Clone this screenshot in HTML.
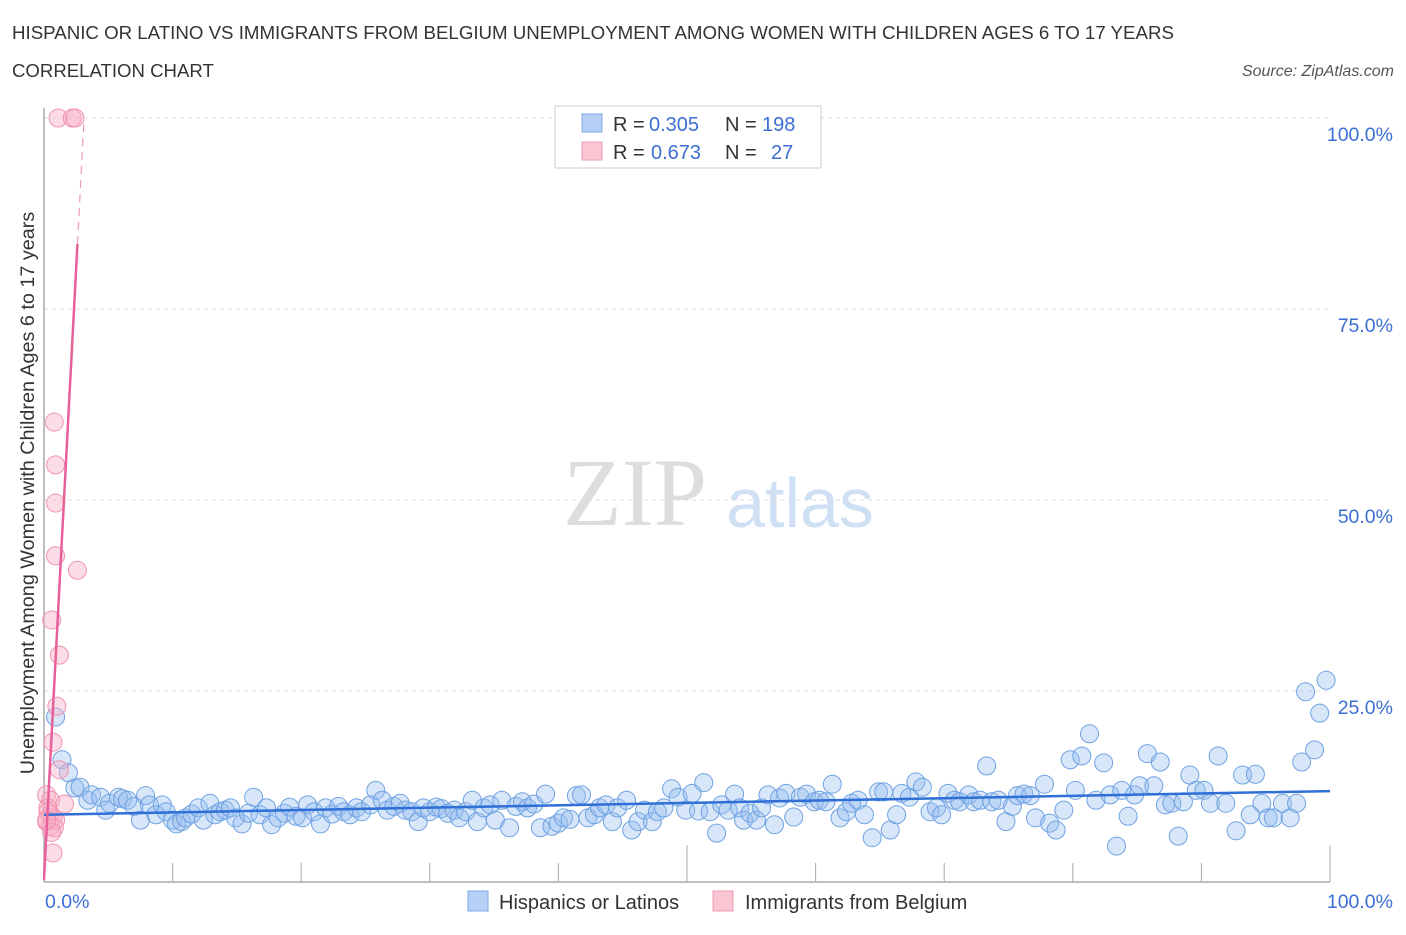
<!DOCTYPE html>
<html><head><meta charset="utf-8"><style>
body{margin:0;background:#fff;font-family:"Liberation Sans",sans-serif;}
</style></head><body>
<svg width="1406" height="930" xmlns="http://www.w3.org/2000/svg" style="font-family:'Liberation Sans',sans-serif">
<text x="12" y="39" font-size="18.7" fill="#333">HISPANIC OR LATINO VS IMMIGRANTS FROM BELGIUM UNEMPLOYMENT AMONG WOMEN WITH CHILDREN AGES 6 TO 17 YEARS</text>
<text x="12" y="77" font-size="18.6" fill="#333">CORRELATION CHART</text>
<text x="1394" y="76" font-size="16" fill="#555" text-anchor="end" font-style="italic">Source: ZipAtlas.com</text>
<g>
<text x="635" y="525" font-size="96" fill="#ddd" text-anchor="middle" font-family="Liberation Serif,serif">ZIP</text>
<text x="800" y="527" font-size="70" fill="#cfe0f5" text-anchor="middle">atlas</text>
</g>
<g id="grid"></g>
<g id="axes"></g>
<g id="pts"></g>
<g id="lines"></g>
<text transform="translate(34,493) rotate(-90)" font-size="19.8" fill="#333" text-anchor="middle">Unemployment Among Women with Children Ages 6 to 17 years</text>
<text x="45" y="908" font-size="19.5" fill="#3b6fd4">0.0%</text>
<text x="1393" y="908" font-size="19.5" fill="#3b6fd4" text-anchor="end">100.0%</text>
<g font-size="20">
<rect x="555" y="106" width="266" height="62" fill="#fff" stroke="#ccc"/>
<rect x="582" y="114" width="20" height="18" fill="#b7d0f5" stroke="#7ea9e6"/>
<rect x="582" y="142" width="20" height="18" fill="#fbc5d3" stroke="#ef9bb5"/>
<text x="613" y="131" fill="#333">R =</text>
<text x="649" y="131" fill="#3b6fd4">0.305</text>
<text x="725" y="131" fill="#333">N =</text>
<text x="762" y="131" fill="#3b6fd4">198</text>
<text x="613" y="159" fill="#333">R =</text>
<text x="651" y="159" fill="#3b6fd4">0.673</text>
<text x="725" y="159" fill="#333">N =</text>
<text x="771" y="159" fill="#3b6fd4">27</text>
</g>
<g>
<rect x="468" y="891" width="20" height="20" fill="#b7d0f5" stroke="#7ea9e6"/>
<text x="499" y="909" font-size="20" fill="#333">Hispanics or Latinos</text>
</g>
<g>
<rect x="713" y="891" width="20" height="20" fill="#fbc5d3" stroke="#ef9bb5"/>
<text x="745" y="909" font-size="20" fill="#333">Immigrants from Belgium</text>
</g>
</svg>
<script>
const yTicks=[25,50,75,100];
const yTickLabels=["25.0%","50.0%","75.0%","100.0%"];
const xTicks=[0,10,20,30,40,50,60,70,80,90,100];
const blueX=[0.9,1.4,1.9,2.4,2.8,3.4,3.7,4.4,4.8,5.1,5.8,6.1,6.5,7.0,7.5,7.9,8.2,8.7,9.2,9.5,10.0,10.3,10.7,11.0,11.5,12.0,12.4,12.9,13.3,13.7,14.1,14.5,14.9,15.4,15.9,16.3,16.8,17.3,17.7,18.2,18.7,19.1,19.6,20.1,20.5,21.0,21.5,21.9,22.4,22.9,23.3,23.8,24.3,24.7,25.4,25.8,26.3,26.7,27.2,27.7,28.1,28.6,29.1,29.5,30.0,30.5,30.9,31.4,31.9,32.3,32.8,33.3,33.7,34.2,34.7,35.1,35.6,36.2,36.7,37.2,37.6,38.1,38.6,39.0,39.5,40.0,40.4,40.9,41.4,41.8,42.3,42.8,43.2,43.7,44.2,44.6,45.3,45.7,46.2,46.7,47.3,47.7,48.2,48.8,49.3,49.9,50.4,50.9,51.3,51.8,52.3,52.7,53.2,53.7,54.1,54.4,54.9,55.4,55.8,56.3,56.8,57.2,57.7,58.3,58.8,59.3,59.9,60.3,60.8,61.3,61.9,62.4,62.8,63.3,63.8,64.4,64.9,65.3,65.8,66.3,66.7,67.3,67.8,68.3,68.9,69.4,69.8,70.3,70.8,71.2,71.9,72.3,72.8,73.3,73.7,74.2,74.8,75.3,75.7,76.2,76.7,77.1,77.8,78.2,78.7,79.3,79.8,80.2,80.7,81.3,81.8,82.4,82.9,83.4,83.8,84.3,84.8,85.2,85.8,86.3,86.8,87.2,87.7,88.2,88.6,89.1,89.6,90.2,90.7,91.3,91.9,92.7,93.2,93.8,94.2,94.7,95.2,95.6,96.3,96.9,97.4,97.8,98.1,98.8,99.2,99.7];
const blueY=[21.6,16.0,14.3,12.3,12.4,10.7,11.4,11.1,9.4,10.3,11.1,10.9,10.7,9.9,8.1,11.3,10.1,8.8,10.1,9.2,8.1,7.6,7.9,8.4,8.9,9.7,8.1,10.3,8.8,9.2,9.4,9.7,8.4,7.6,9.0,11.1,8.8,9.7,7.5,8.4,9.0,9.8,8.6,8.4,10.1,9.2,7.6,9.7,8.9,9.9,9.2,8.8,9.7,9.2,10.1,12.0,10.7,9.4,9.9,10.3,9.4,9.2,7.9,9.7,9.2,9.8,9.6,9.0,9.4,8.4,9.2,10.7,7.9,9.7,10.1,8.1,10.7,7.1,9.9,10.5,9.7,10.2,7.1,11.5,7.3,7.7,8.4,8.2,11.3,11.4,8.4,8.8,9.7,10.1,7.9,9.7,10.7,6.8,7.9,9.4,7.9,9.2,9.7,12.2,11.1,9.4,11.6,9.3,13.0,9.2,6.4,10.1,9.4,11.5,9.7,8.1,9.0,8.1,9.7,11.4,7.5,11.0,11.6,8.5,11.1,11.5,10.5,10.7,10.5,12.8,8.4,9.2,10.3,10.7,8.8,5.8,11.8,11.8,6.8,8.8,11.6,11.1,13.1,12.4,9.2,9.7,8.8,11.6,10.7,10.5,11.4,10.5,10.7,15.2,10.5,10.7,7.9,9.9,11.3,11.5,11.3,8.4,12.8,7.7,6.8,9.4,16.0,12.0,16.5,19.4,10.7,15.6,11.4,4.7,12.0,8.6,11.4,12.6,16.8,12.6,15.7,10.1,10.3,6.0,10.5,14.0,12.0,12.0,10.3,16.5,10.3,6.7,14.0,8.8,14.1,10.3,8.4,8.4,10.3,8.4,10.3,15.7,24.9,17.3,22.1,26.4];
const pinkX=[1.1,2.2,2.4,0.8,0.9,0.9,0.9,2.6,0.6,1.2,1.0,0.7,1.2,0.2,0.5,1.6,0.3,0.5,0.7,0.2,0.5,0.8,0.9,0.6,0.7,0.3,0.2];
const pinkY=[100,100,100,60.2,54.6,49.6,42.7,40.8,34.3,29.7,23.0,18.3,14.7,11.4,10.7,10.2,9.7,8.8,8.4,7.9,7.3,7.1,8.1,6.5,3.8,9.2,8.1];
const blueTrend=[8.8,11.9];
const pinkTrend={b:0.3,m:32,solidEnd:2.6,dashEnd:3.1};
const X=v=>44+v*12.86, Y=v=>882-v*7.64;
const NS="http://www.w3.org/2000/svg";
function mk(t,a,p){const e=document.createElementNS(NS,t);for(const k in a)e.setAttribute(k,a[k]);p.appendChild(e);return e;}
const grid=document.getElementById('grid'),axes=document.getElementById('axes'),pts=document.getElementById('pts'),lines=document.getElementById('lines');
yTicks.forEach((v,i)=>{
 const l=mk('line',{x1:44,x2:1330,y1:Y(v),y2:Y(v),stroke:'#ddd','stroke-dasharray':'4,4'},grid);
 
 
 const t=mk('text',{x:1393,y:Y(v)+23,'font-size':19.5,fill:'#3b6fd4','text-anchor':'end'},grid);
 t.textContent=yTickLabels[i];
 
 
});
const ax=mk('line',{x1:44,x2:1330,y1:882,y2:882,stroke:'#aaa','stroke-width':1.5},axes);


const ay=mk('line',{x1:44,x2:44,y1:108,y2:882,stroke:'#aaa','stroke-width':1.5},axes);


xTicks.forEach(v=>{
 if(v===0)return;
 const tk=mk('line',{x1:X(v),x2:X(v),y1:(v===50||v===100)?845:863,y2:882,stroke:'#aaa'},axes);
 
 
});
blueX.forEach((x,i)=>{
 const c=mk('circle',{cx:X(x),cy:Y(blueY[i]),r:9,fill:'rgba(150,190,240,0.38)',stroke:'#6fa2e2','stroke-width':1},pts);
 
 
});
pinkX.forEach((x,i)=>{
 const c=mk('circle',{cx:X(x),cy:Y(pinkY[i]),r:9,fill:'rgba(248,175,198,0.42)',stroke:'#f093b0','stroke-width':1},pts);
 
 
});
const bl=mk('line',{x1:X(0),y1:Y(blueTrend[0]),x2:X(100),y2:Y(blueTrend[1]),stroke:'#2f6fd6','stroke-width':2.5},lines);


const f=x=>pinkTrend.b+pinkTrend.m*x;
const pl=mk('line',{x1:X(0),y1:Y(f(0)),x2:X(pinkTrend.solidEnd),y2:Y(f(pinkTrend.solidEnd)),stroke:'#e8609a','stroke-width':2.5},lines);


const pd=mk('line',{x1:X(pinkTrend.solidEnd),y1:Y(f(pinkTrend.solidEnd)),x2:X(pinkTrend.dashEnd),y2:Y(f(pinkTrend.dashEnd)),stroke:'#f09ab8','stroke-width':1.2,'stroke-dasharray':'8,6'},lines);


</script>
</body></html>
